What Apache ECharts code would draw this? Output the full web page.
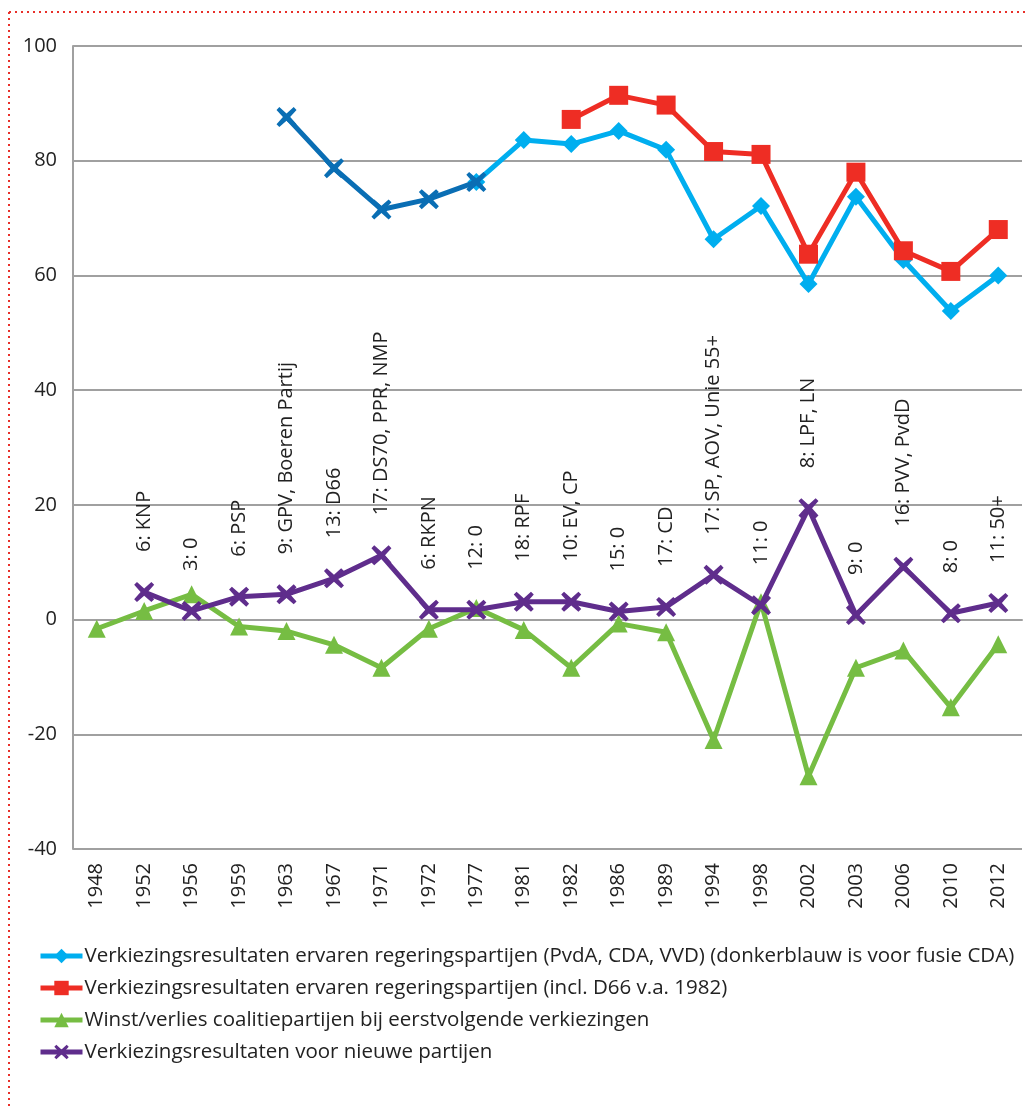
<!DOCTYPE html>
<html>
<head>
<meta charset="utf-8">
<script src="https://cdn.jsdelivr.net/npm/echarts@6/dist/echarts.min.js"></script>
<style>
  html, body { margin: 0; padding: 0; background: #fff; }
  #chart { width: 1029px; height: 1110px; }
</style>
</head>
<body>
<div id="chart"></div>
<script>
var years = ['1948','1952','1956','1959','1963','1967','1971','1972','1977','1981',
             '1982','1986','1989','1994','1998','2002','2003','2006','2010','2012'];

// ervaren regeringspartijen (PvdA, CDA, VVD), lichtblauw vanaf 1977
var ervarenLicht = [null,null,null,null,null,null,null,null,76.3,83.6,
                    82.9,85.2,81.9,66.3,72.1,58.5,73.7,62.7,53.8,60.0];
// donkerblauw: voor fusie CDA
var ervarenDonker = [null,null,null,null,87.6,78.7,71.5,73.3,76.3,null,
                     null,null,null,null,null,null,null,null,null,null];
// incl. D66 vanaf 1982
var inclD66 = [null,null,null,null,null,null,null,null,null,null,
               87.2,91.4,89.7,81.6,81.1,63.7,78.0,64.3,60.7,68.0];
// winst/verlies coalitiepartijen
var winstVerlies = [-1.6,1.5,4.4,-1.2,-2.0,-4.4,-8.4,-1.6,2.0,-1.8,
                    -8.4,-0.7,-2.2,-21.0,3.0,-27.3,-8.4,-5.4,-15.3,-4.3];
// nieuwe partijen
var nieuwePartijen = [null,4.8,1.5,4.0,4.4,7.2,11.2,1.7,1.7,3.1,
                      3.1,1.4,2.2,7.8,2.5,19.4,0.8,9.2,1.1,2.9];
var nieuweNamen = ['','6: KNP','3: 0','6: PSP','9: GPV, Boeren Partij','13: D66',
                   '17: DS70, PPR, NMP','6: RKPN','12: 0','18: RPF','10: EV, CP','15: 0',
                   '17: CD','17: SP, AOV, Unie 55+','11: 0','8: LPF, LN','9: 0',
                   '16: PVV, PvdD','8: 0','11: 50+'];

var names = [
    'Verkiezingsresultaten ervaren regeringspartijen (PvdA, CDA, VVD) (donkerblauw is voor fusie CDA)',
    'Verkiezingsresultaten ervaren regeringspartijen (incl. D66 v.a. 1982)',
    'Winst/verlies coalitiepartijen bij eerstvolgende verkiezingen',
    'Verkiezingsresultaten voor nieuwe partijen'
];

// dik kruisje als marker
var xSymbol = 'path://M1.4,0 L5,3.2 L8.6,0 L10,1.4 L6.8,5 L10,8.6 L8.6,10 L5,6.8 L1.4,10 L0,8.6 L3.2,5 L0,1.4 Z';
var font = '"Open Sans", sans-serif';

var myChart = echarts.init(document.getElementById('chart'));
var option = {
    animation: false,
    textStyle: { fontFamily: font },
    graphic: [
        { type: 'line', shape: { x1: 9, y1: 12, x2: 1029, y2: 12 },
          style: { stroke: '#e8302a', lineWidth: 2, lineDash: [2, 4] } },
        { type: 'line', shape: { x1: 9, y1: 12, x2: 9, y2: 1110 },
          style: { stroke: '#e8302a', lineWidth: 2, lineDash: [2, 4] } }
    ],
    grid: { left: 73, right: 7, top: 46, bottom: 261, containLabel: false },
    legend: {
        orient: 'vertical',
        left: 33,
        top: 940,
        itemWidth: 42,
        itemHeight: 18,
        itemGap: 10,
        data: names,
        lineStyle: { width: 5 },
        textStyle: { fontSize: 20.5, lineHeight: 22, color: '#222', fontFamily: font, padding: [0, 0, 0, -3] }
    },
    xAxis: {
        type: 'category',
        data: years,
        boundaryGap: true,
        axisLine: { lineStyle: { color: '#a0a0a0', width: 2 } },
        axisTick: { show: false },
        axisLabel: { rotate: 90, color: '#222', fontSize: 20, margin: 14, interval: 0 }
    },
    yAxis: {
        type: 'value',
        min: -40,
        max: 100,
        interval: 20,
        axisLine: { show: true, lineStyle: { color: '#a0a0a0', width: 2 } },
        axisTick: { show: false },
        axisLabel: { color: '#222', fontSize: 20, margin: 16 },
        splitLine: { lineStyle: { color: '#a0a0a0', width: 2 } }
    },
    series: [
        {
            name: names[0],
            type: 'line',
            data: ervarenLicht,
            color: '#00aeef',
            symbol: 'diamond',
            symbolSize: 18,
            lineStyle: { width: 5 },
            z: 2
        },
        {
            name: 'donkerblauw',
            type: 'line',
            data: ervarenDonker,
            color: '#0a6eb4',
            symbol: xSymbol,
            symbolSize: 20,
            lineStyle: { width: 5 },
            z: 3
        },
        {
            name: names[1],
            type: 'line',
            data: inclD66,
            color: '#ee2d24',
            symbol: 'rect',
            symbolSize: 19,
            lineStyle: { width: 5 },
            z: 2
        },
        {
            name: names[2],
            type: 'line',
            data: winstVerlies,
            color: '#76bd43',
            symbol: 'triangle',
            symbolSize: 18,
            lineStyle: { width: 5 },
            z: 2
        },
        {
            name: names[3],
            type: 'line',
            data: nieuwePartijen,
            color: '#5f2d8c',
            symbol: xSymbol,
            symbolSize: 20,
            lineStyle: { width: 5 },
            z: 3,
            label: {
                show: true,
                position: 'top',
                distance: 30,
                rotate: 90,
                align: 'left',
                verticalAlign: 'middle',
                color: '#222',
                fontSize: 20,
                fontFamily: font,
                formatter: function (p) { return nieuweNamen[p.dataIndex]; }
            }
        }
    ]
};
myChart.setOption(option);
</script>
</body>
</html>
